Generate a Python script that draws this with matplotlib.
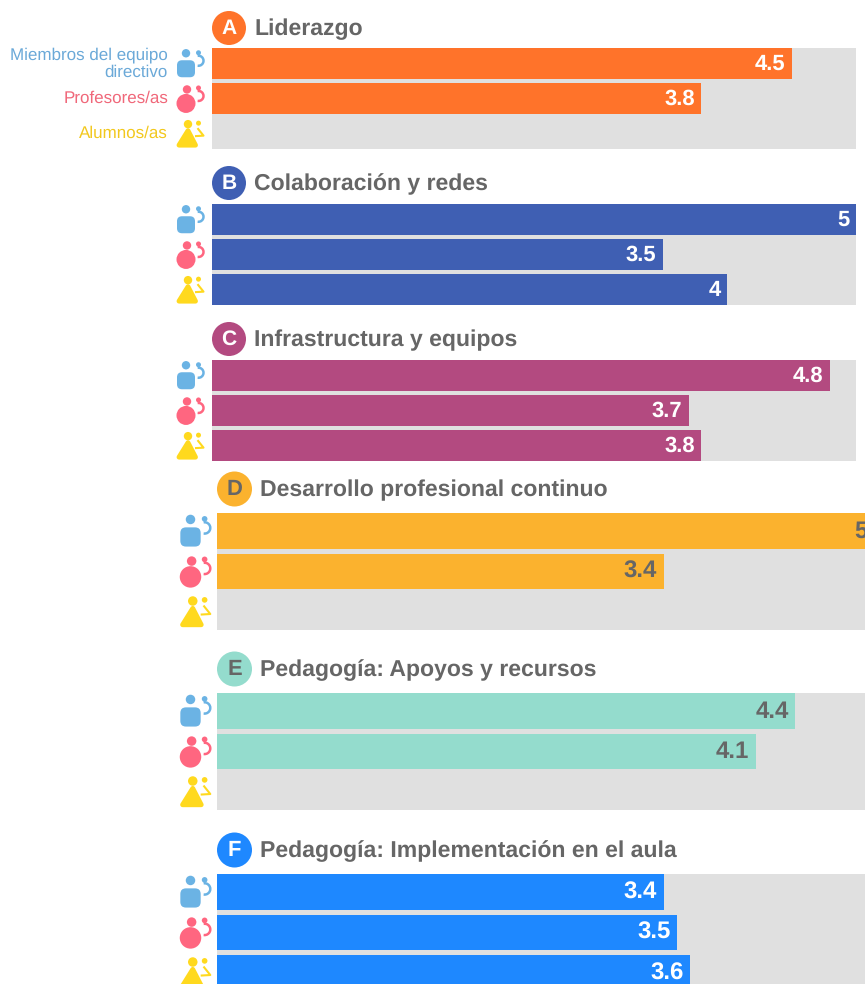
import numpy as np
import matplotlib
matplotlib.use('Agg')
import matplotlib.pyplot as plt
from matplotlib.patches import Circle, FancyBboxPatch, Polygon, Arc

plt.rcParams['font.family'] = ['Liberation Sans', 'DejaVu Sans']
plt.rcParams['text.hinting'] = 'none'
plt.rcParams['text.hinting_factor'] = 1

W, H = 865, 984

# data
letters = ['A', 'B', 'C', 'D', 'E', 'F']
titles = ['Liderazgo', 'Colaboración y redes', 'Infrastructura y equipos',
          'Desarrollo profesional continuo', 'Pedagogía: Apoyos y recursos',
          'Pedagogía: Implementación en el aula']
directivos = [4.5, 5, 4.8, 5, 4.4, 3.4]
profesores = [3.8, 3.5, 3.7, 3.4, 4.1, 3.5]
alumnos = [np.nan, 4, 3.8, np.nan, np.nan, 3.6]
colors = ['#FF732A', '#3F5FB3', '#B34A80', '#FBB22E', '#94DCCD', '#1E88FF']
text_colors = ['white', 'white', 'white', '#666666', '#666666', 'white']
groups = ['Miembros del equipo\ndirectivo', 'Profesores/as', 'Alumnos/as']
group_colors = ['#6BA9D8', '#F0687A', '#F2C81E']
icon_colors = ['#6BB3E4', '#FF6680', '#FFD91E']

# layout in pixels: x left, x of value 5, top, bar pitch, bar height, title y
layout = [
    (212, 856, 48, 35.2, 30.5, 28),
    (212, 856, 204, 35.2, 30.5, 183),
    (212, 856, 360, 35.2, 30.5, 339),
    (217, 874, 513, 40.5, 35.5, 489),
    (217, 874, 693, 40.5, 35.5, 669),
    (217, 874, 874, 40.5, 35.5, 850),
]

fig = plt.figure(figsize=(W / 100, H / 100), dpi=100, facecolor='white')

# overlay in pixel coords for titles and icons
ov = fig.add_axes([0, 0, 1, 1], zorder=5)
ov.set_xlim(0, W)
ov.set_ylim(H, 0)
ov.axis('off')


def draw_icon(kind, cx, cy, s):
    c = icon_colors[kind]
    if kind == 0:
        ov.add_patch(FancyBboxPatch((cx - 4.5 * s, cy + 1.5 * s), 9 * s, 8 * s,
                                    boxstyle='round,pad=%f,rounding_size=%f' % (4.5 * s, 5 * s),
                                    fc=c, ec='none'))
        head = (cx, cy - 10 * s)
    elif kind == 1:
        ov.add_patch(Circle((cx, cy + 5 * s), 9.5 * s, fc=c, ec='none'))
        head = (cx + 1 * s, cy - 9 * s)
    else:
        ov.add_patch(Polygon([(cx - 7 * s, cy + 11.5 * s), (cx + 2 * s, cy - 3 * s),
                              (cx + 9.5 * s, cy + 11.5 * s)],
                             fc=c, ec=c, lw=3.5, joinstyle='round'))
        head = (cx + 2 * s, cy - 9.5 * s)
    ov.add_patch(Circle(head, 4.2 * s, fc=c, ec='none'))
    sx, sy = cx + 12.5 * s, cy - 10.5 * s
    ov.add_patch(Circle((sx, sy), 2.5 * s, fc=c, ec='none'))
    if kind == 2:
        ov.add_patch(Polygon([(sx - 1 * s, sy + 5 * s), (sx + 5 * s, sy + 12.5 * s), (sx - 3.5 * s, sy + 13 * s)],
                             fc='none', ec=c, lw=1.5, closed=False, joinstyle='round'))
    else:
        ov.add_patch(Arc((sx, sy + 8 * s), 10 * s, 10 * s, theta1=-100, theta2=100, ec=c, lw=1.8))


for i in range(6):
    x0, x5, top, pitch, bar_h, ty = layout[i]
    vals = [directivos[i], profesores[i], alumnos[i]]
    span = 2 * pitch + bar_h

    ax = fig.add_axes([x0 / W, 1 - (top + span) / H, (x5 - x0) / W, span / H])
    ax.set_facecolor('#E0E0E0')
    for sp in ax.spines.values():
        sp.set_visible(False)
    ax.set_xticks([])
    ax.set_yticks([])
    ax.set_xlim(0, 5)
    ax.set_ylim((span - bar_h / 2) / pitch, -bar_h / 2 / pitch)
    ax.barh(range(3), vals, height=bar_h / pitch, color=colors[i])
    for j, v in enumerate(vals):
        if not np.isnan(v):
            ax.annotate('%g' % v, (v, j), xytext=(-4.7, -0.5), textcoords='offset points',
                        ha='right', va='center', color=text_colors[i],
                        fontsize=16 if i < 3 else 17, fontweight='bold', annotation_clip=False)

    # title with lettered disc
    r = 17 if i < 3 else 17.5
    cx = x0 + r
    ov.add_patch(Circle((cx, ty), r, fc=colors[i], ec='none'))
    ov.text(cx, ty + 0.5, letters[i], ha='center', va='center', color=text_colors[i],
            fontsize=15 if i < 3 else 16, fontweight='bold')
    ov.text(cx + r + 8, ty + 1, titles[i], ha='left', va='center', color='#666666',
            fontsize=16.4 if i < 3 else 16.9, fontweight='bold')

    # person icons
    s = 1 if i < 3 else 1.13
    ix = 186 if i < 3 else 190.5
    for k in range(3):
        draw_icon(k, ix, top + bar_h / 2 + k * pitch, s)

# left labels only on the first group
for k in range(3):
    ov.text(168, 48 + 15 + k * 35.2 + 0.5, groups[k], ha='right', va='center', color=group_colors[k],
            fontsize=12.5, linespacing=1.1)

fig.savefig('out.png', dpi=100)
